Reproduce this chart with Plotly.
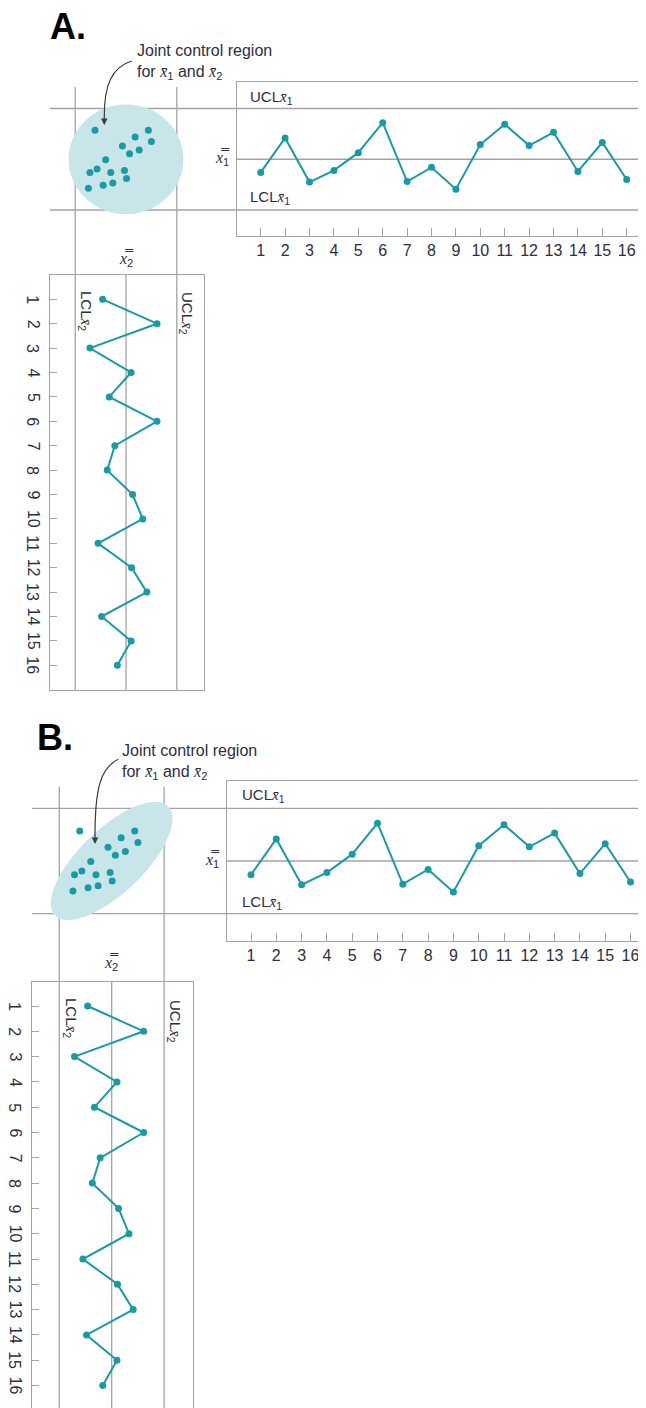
import plotly.graph_objects as go
import numpy as np

W, H = 646, 1408          # page (viewport) size in px
OFF = 8                   # default body margin of the page
FW, FH = W - OFF, H - OFF  # figure size that fits the viewport

# ---------------- data (standardized units: centre line = 0, control limits = +/-1)
samples = list(range(1, 17))
x1_means = [-0.26, 0.42, -0.45, -0.22, 0.13, 0.72, -0.44, -0.16, -0.59, 0.29,
            0.69, 0.27, 0.53, -0.24, 0.33, -0.40]
x2_means = [-0.46, 0.61, -0.71, 0.10, -0.33, 0.61, -0.22, -0.37, 0.13, 0.33,
            -0.55, 0.11, 0.41, -0.48, 0.10, -0.17]
joint_x2 = [-0.61, 0.44, 0.18, 0.50, -0.07, 0.26, 0.07, -0.40,
            -0.57, -0.71, -0.30, -0.03, 0.01, -0.26, -0.45, -0.74]
joint_x1 = [0.57, 0.57, 0.44, 0.35, 0.26, 0.18, 0.11, -0.01,
            -0.19, -0.26, -0.26, -0.22, -0.38, -0.47, -0.51, -0.57]
tick_labels = [str(i) for i in samples]
UCL, CL, LCL = 1.0, 0.0, -1.0

TEAL = "#1b9aa5"
FILL = "#c8e5e9"
GRAY = "#a3a3a3"
TXT = "#2e2e3e"
SANS = "Liberation Sans, Arial, sans-serif"


def px(x):
    return (x - OFF) / FW


def py(y):
    return 1 - (y - OFF) / FH


def xb(n):
    return ('<span style="font-family:Liberation Serif"><i>x\u0304</i></span>'
            f'<sub>{n}</sub>')


def xbb(n):
    return ('<span style="font-family:Liberation Serif"><i>x\u033f</i></span>'
            f'<sub>{n}</sub>')


# panel geometry (page pixels)
panels = [
    dict(name="A.", label=(48, 27), ax=("x", "y", "x2", "y2"),
         top=dict(left=237, top=82, bottom=236, c=159.25, s=50.75, t1=260.7, st=24.4),
         bot=dict(left=50, right=204, top=275, bottom=690, c=126.0, s=50.8, i1=299.3, st=24.4),
         hline_x0=50, vline_y0=87, vline_y1=690, idx_lab_x=33,
         region=dict(kind="circle", cx=0.0, cy=0.0, rx=1.13, ry=1.08),
         note=(135, 50), arrow=[(131.7, 61), (112, 67), (104, 85), (104.3, 117)], tip=(104.3, 125),
         ucl_lab=(248, 97), lcl_lab=(248, 198), xbb1=(232, 158), xbb2=(126, 259),
         lcl2=(86, 311), ucl2=(187, 313), bottom_open=False),
    dict(name="B.", label=(35, 737), ax=("x3", "y3", "x4", "y4"),
         top=dict(left=226.5, top=780.7, bottom=941, c=861.0, s=52.6, t1=251, st=25.3),
         bot=dict(left=32.3, right=192.7, top=981.7, bottom=1408, c=111.7, s=52.4, i1=1006, st=25.3),
         hline_x0=32, vline_y0=786.7, vline_y1=1408, idx_lab_x=15,
         region=dict(kind="ellipse", cx=0.0, cy=0.0, a=1.497, b=0.608, ang=43.7),
         note=(120, 750), arrow=[(118.3, 759.3), (100, 768), (95, 790), (95, 836)], tip=(95, 844),
         ucl_lab=(240, 795), lcl_lab=(240, 902), xbb1=(222, 860), xbb2=(111, 963),
         lcl2=(71, 1018), ucl2=(175, 1021), bottom_open=True),
]

fig = go.Figure()
shapes, annos = [], []
layout_axes = {}

for P in panels:
    xt, yt, xbt, ybt = P["ax"]
    T, B = P["top"], P["bot"]
    xt_n, yt_n = xt.replace("x", "xaxis"), yt.replace("y", "yaxis")
    xb_n, yb_n = xbt.replace("x", "xaxis"), ybt.replace("y", "yaxis")

    top_xr = [1 + (T["left"] - T["t1"]) / T["st"], 1 + (W - T["t1"]) / T["st"]]
    top_yr = [(T["c"] - T["bottom"]) / T["s"], (T["c"] - T["top"]) / T["s"]]
    bot_xr = [(B["left"] - B["c"]) / B["s"], (B["right"] - B["c"]) / B["s"]]
    bot_yr = [1 + (B["bottom"] - B["i1"]) / B["st"], 1 + (B["top"] - B["i1"]) / B["st"]]

    common = dict(showgrid=False, zeroline=False, linecolor=GRAY, linewidth=1.3,
                  tickcolor=GRAY, tickfont=dict(family=SANS, size=16, color=TXT))
    layout_axes[xt_n] = dict(common, domain=[px(T["left"]), 1], range=top_xr, anchor=yt,
                             showline=True, mirror=True, ticks="inside", ticklen=8,
                             tickvals=samples, ticktext=tick_labels)
    layout_axes[yt_n] = dict(common, domain=[py(T["bottom"]), py(T["top"])], range=top_yr,
                             anchor=xt, showline=True, showticklabels=False)
    layout_axes[xb_n] = dict(common, domain=[px(B["left"]), px(B["right"])], range=bot_xr,
                             anchor=ybt, showline=True, showticklabels=False,
                             mirror=not P["bottom_open"],
                             side="top" if P["bottom_open"] else "bottom")
    layout_axes[yb_n] = dict(common, domain=[0 if P["bottom_open"] else py(B["bottom"]), py(B["top"])],
                             range=bot_yr, anchor=xbt, showline=True, mirror=True,
                             ticks="inside", ticklen=7, showticklabels=False,
                             tickvals=samples)
    # rotated sample-number labels of the x2 chart, placed on its index axis
    for s_, lab in zip(samples, tick_labels):
        annos.append(dict(x=px(P["idx_lab_x"]), y=s_, xref="paper", yref=ybt, text=lab,
                          showarrow=False, textangle=90, xanchor="center", yanchor="middle",
                          font=dict(family=SANS, size=16, color=TXT)))

    # joint control region
    R = P["region"]
    if R["kind"] == "circle":
        shapes.append(dict(type="circle", xref=xbt, yref=yt, x0=R["cx"] - R["rx"], x1=R["cx"] + R["rx"],
                           y0=R["cy"] - R["ry"], y1=R["cy"] + R["ry"], fillcolor=FILL,
                           line=dict(width=0), layer="below"))
    else:
        t = np.linspace(0, 2 * np.pi, 120)
        th = np.deg2rad(R["ang"])
        ex = R["cx"] + R["a"] * np.cos(th) * np.cos(t) - R["b"] * np.sin(th) * np.sin(t)
        ey = R["cy"] + R["a"] * np.sin(th) * np.cos(t) + R["b"] * np.cos(th) * np.sin(t)
        path = "M " + " L ".join(f"{a:.4f},{b:.4f}" for a, b in zip(ex, ey)) + " Z"
        shapes.append(dict(type="path", xref=xbt, yref=yt, path=path, fillcolor=FILL,
                           line=dict(width=0), layer="below"))

    # control limit lines
    for v in (UCL, LCL):
        shapes.append(dict(type="line", xref="paper", yref=yt, x0=px(P["hline_x0"]), x1=1,
                           y0=v, y1=v, line=dict(color=GRAY, width=1.3), layer="below"))
        shapes.append(dict(type="line", xref=xbt, yref="paper", x0=v, x1=v,
                           y0=py(P["vline_y1"]), y1=py(P["vline_y0"]),
                           line=dict(color=GRAY, width=1.3), layer="below"))
    shapes.append(dict(type="line", xref=xt, yref=yt, x0=top_xr[0], x1=top_xr[1], y0=CL, y1=CL,
                       line=dict(color=GRAY, width=1.3), layer="below"))
    shapes.append(dict(type="line", xref=xbt, yref=ybt, x0=CL, x1=CL, y0=bot_yr[0], y1=bot_yr[1],
                       line=dict(color=GRAY, width=1.3), layer="below"))

    # traces
    fig.add_trace(go.Scatter(x=samples, y=x1_means, xaxis=xt, yaxis=yt, mode="lines+markers",
                             line=dict(color=TEAL, width=2), marker=dict(color=TEAL, size=7),
                             showlegend=False, cliponaxis=False))
    fig.add_trace(go.Scatter(x=x2_means, y=samples, xaxis=xbt, yaxis=ybt, mode="lines+markers",
                             line=dict(color=TEAL, width=2), marker=dict(color=TEAL, size=7),
                             showlegend=False, cliponaxis=False))
    fig.add_trace(go.Scatter(x=joint_x2, y=joint_x1, xaxis=xbt, yaxis=yt, mode="markers",
                             marker=dict(color=TEAL, size=7), showlegend=False))

    # curved arrow
    a = P["arrow"]
    shapes.append(dict(type="path", xref="paper", yref="paper",
                       path=(f"M {px(a[0][0])},{py(a[0][1])} C {px(a[1][0])},{py(a[1][1])} "
                             f"{px(a[2][0])},{py(a[2][1])} {px(a[3][0])},{py(a[3][1])}"),
                       line=dict(color="#3a3a3a", width=1.2)))
    annos.append(dict(x=px(P["tip"][0]), y=py(P["tip"][1]), xref="paper", yref="paper", text="",
                      showarrow=True, ax=0, ay=-10, arrowhead=2, arrowsize=1.1, arrowwidth=1.2,
                      arrowcolor="#3a3a3a"))

    # texts
    annos.append(dict(x=px(P["label"][0]), y=py(P["label"][1]), xref="paper", yref="paper",
                      text=f"<b>{P['name']}</b>", showarrow=False, xanchor="left", yanchor="middle",
                      font=dict(family="Liberation Sans, Arial", size=36, color="black")))
    annos.append(dict(x=px(P["note"][0]), y=py(P["note"][1] - 10), xref="paper", yref="paper",
                      text=f"Joint control region<br>for {xb(1)} and {xb(2)}", showarrow=False,
                      xanchor="left", yanchor="top", align="left",
                      font=dict(family=SANS, size=16, color=TXT)))
    for lab, pos in (("UCL", P["ucl_lab"]), ("LCL", P["lcl_lab"])):
        annos.append(dict(x=px(pos[0]), y=py(pos[1]), xref="paper", yref="paper",
                          text=f"{lab}{xb(1)}", showarrow=False, xanchor="left", yanchor="middle",
                          font=dict(family=SANS, size=15, color=TXT)))
    annos.append(dict(x=px(P["xbb1"][0]), y=py(P["xbb1"][1]), xref="paper", yref="paper",
                      text=xbb(1), showarrow=False, xanchor="right", yanchor="middle",
                      font=dict(family=SANS, size=16, color=TXT)))
    annos.append(dict(x=px(P["xbb2"][0]), y=py(P["xbb2"][1]), xref="paper", yref="paper",
                      text=xbb(2), showarrow=False, xanchor="center", yanchor="middle",
                      font=dict(family=SANS, size=16, color=TXT)))
    for lab, pos in (("LCL", P["lcl2"]), ("UCL", P["ucl2"])):
        annos.append(dict(x=px(pos[0]), y=py(pos[1]), xref="paper", yref="paper",
                          text=f"{lab}{xb(2)}", showarrow=False, textangle=90,
                          xanchor="center", yanchor="middle",
                          font=dict(family=SANS, size=15, color=TXT)))

fig.update_layout(width=FW, height=FH, margin=dict(l=0, r=0, t=0, b=0),
                  paper_bgcolor="white", plot_bgcolor="rgba(0,0,0,0)",
                  shapes=shapes, annotations=annos, showlegend=False, **layout_axes)

fig.write_html("out.html")
